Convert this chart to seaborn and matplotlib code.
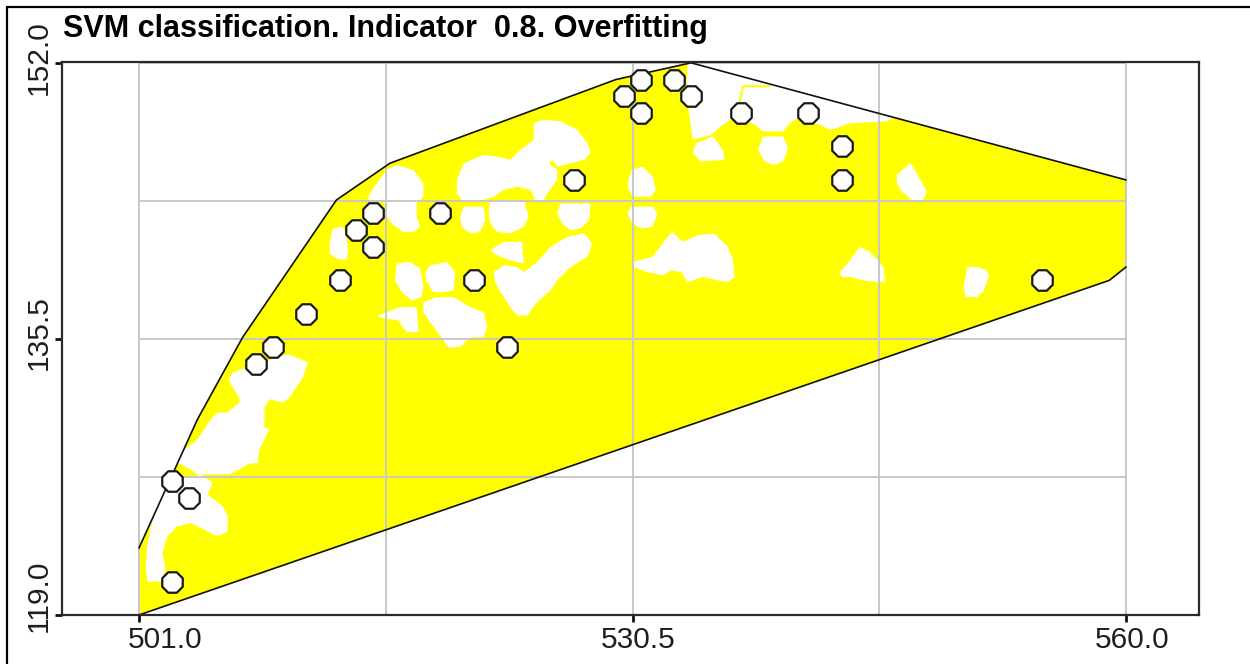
import matplotlib
matplotlib.use("Agg")
import matplotlib.pyplot as plt
from matplotlib.lines import Line2D
from matplotlib.transforms import blended_transform_factory, offset_copy
import seaborn as sns

TITLE = "SVM classification. Indicator  0.8. Overfitting"

# axis ticks and grid
x_ticks = [501.0, 530.5, 560.0]
x_tick_labels = ["501.0", "530.5", "560.0"]
y_ticks = [119.0, 135.5, 152.0]
y_tick_labels = ["119.0", "135.5", "152.0"]
x_grid = [501.0, 515.75, 530.5, 545.25, 560.0]
y_grid = [119.0, 127.25, 135.5, 143.75, 152.0]

# training samples
point_x = [503, 504, 503, 508, 509, 511, 513, 514, 515, 515, 519, 521,
           523, 527, 530, 531, 531, 533, 534, 537, 541, 543, 543, 555]
point_y = [127, 126, 121, 134, 135, 137, 139, 142, 143, 141, 143, 139,
           135, 145, 150, 151, 149, 151, 150, 149, 149, 147, 145, 139]

# convex hull of the data (lower and upper chains)
hull_lower_x = [501.0, 559.0, 560.0]
hull_lower_y = [119.0, 139.0, 139.8]
hull_upper_x = [560.0, 534.0, 529.5, 516.0, 512.8, 507.2, 504.5, 501.0]
hull_upper_y = [145.0, 152.0, 151.0, 146.0, 143.8, 135.6, 130.7, 123.0]

# areas inside the hull not covered by the yellow class
hole_01 = [(501.5, 123.1), (501.8, 124.7), (503.0, 127.5), (503.9, 127.2), (504.7, 127.4),
           (505.4, 126.9), (505.1, 126.2), (506.0, 125.5), (506.3, 124.9), (506.3, 124.0),
           (505.7, 123.7), (505.1, 124.0), (504.1, 124.5), (503.3, 124.3), (502.7, 123.7),
           (502.4, 122.7), (502.6, 121.7), (502.3, 121.0), (501.5, 121.0), (501.4, 121.9)]
hole_02 = [(506.4, 133.1), (506.6, 133.5), (507.5, 133.8), (509.9, 134.6), (511.1, 134.1),
           (510.8, 133.2), (510.0, 132.0), (509.6, 131.7), (508.8, 131.9), (508.5, 131.4),
           (508.5, 130.2), (508.8, 130.1), (508.2, 128.9), (508.1, 128.1), (507.5, 128.0),
           (507.0, 127.7), (506.4, 127.4), (504.5, 127.4), (503.9, 127.8), (503.3, 128.1),
           (503.6, 128.8), (504.5, 129.5), (505.3, 130.7), (505.7, 131.1), (506.3, 131.1),
           (507.0, 131.7), (507.0, 132.0), (506.4, 132.9)]
hole_03 = [(512.6, 142.1), (513.2, 142.2), (513.4, 141.6), (513.5, 140.8), (513.4, 140.2),
           (512.8, 140.3), (512.4, 140.6), (512.4, 141.2), (512.5, 141.8)]
hole_04 = [(514.8, 144.2), (515.8, 145.6), (516.4, 145.9), (517.4, 145.6), (518.0, 144.8),
           (518.0, 144.0), (517.6, 143.6), (517.6, 142.8), (517.8, 142.2), (517.4, 141.9),
           (516.8, 141.9), (516.2, 142.3), (515.8, 142.8), (515.7, 143.6), (515.2, 143.8),
           (514.7, 143.8)]
hole_05 = [(516.4, 140.0), (517.2, 140.1), (517.8, 139.7), (518.0, 138.7), (517.9, 138.0),
           (517.3, 137.8), (516.7, 138.3), (516.3, 139.0)]
hole_06 = [(515.3, 136.9), (516.6, 137.4), (517.6, 137.4), (517.7, 135.9), (517.0, 135.9),
           (516.5, 136.6), (515.4, 136.8)]
hole_07 = [(520.0, 145.0), (520.4, 146.0), (521.6, 146.5), (522.4, 146.4), (523.2, 146.2),
           (523.8, 146.8), (524.6, 147.4), (524.6, 148.4), (525.2, 148.6), (526.2, 148.5),
           (527.2, 148.0), (527.8, 147.2), (528.0, 146.6), (527.6, 146.2), (526.8, 146.0),
           (526.0, 145.8), (525.7, 146.2), (525.5, 146.0), (526.0, 145.6), (526.0, 145.0),
           (525.4, 144.2), (525.2, 143.8), (524.7, 143.8), (524.4, 144.4), (523.6, 144.6),
           (522.8, 144.4), (522.2, 144.0), (521.6, 143.8), (520.3, 143.8), (520.0, 144.2)]
hole_08 = [(520.4, 143.4), (521.6, 143.4), (521.7, 142.6), (521.4, 141.9), (520.8, 141.8),
           (520.3, 142.2), (520.2, 142.8)]
hole_09 = [(522.0, 143.8), (524.0, 143.8), (524.3, 142.8), (524.0, 142.2), (523.2, 141.8),
           (522.4, 141.9), (522.0, 142.4), (521.9, 143.2)]
hole_10 = [(526.2, 143.6), (528.0, 143.6), (527.9, 142.6), (527.4, 142.1), (526.8, 142.0),
           (526.3, 142.4), (526.0, 143.0)]
hole_11 = [(522.0, 140.8), (522.8, 141.3), (523.9, 141.3), (524.0, 140.0), (523.2, 140.2),
           (522.4, 140.5)]
hole_12 = [(522.2, 139.5), (522.8, 139.9), (523.6, 139.8), (524.0, 139.5), (524.8, 140.1),
           (525.6, 141.0), (526.6, 141.6), (527.6, 141.8), (528.1, 141.2), (527.8, 140.4),
           (526.8, 139.8), (526.0, 139.0), (525.6, 138.4), (524.8, 137.7), (524.2, 136.9),
           (523.6, 136.9), (523.2, 137.4), (523.0, 137.7), (522.6, 138.3), (522.3, 138.9)]
hole_13 = [(518.4, 139.9), (519.4, 140.1), (519.9, 139.5), (519.8, 138.4), (519.2, 138.3),
           (518.6, 138.3), (518.2, 138.9), (518.1, 139.5)]
hole_14 = [(518.0, 137.7), (518.8, 138.0), (519.8, 138.0), (520.8, 137.4), (521.6, 137.1),
           (521.8, 136.2), (521.6, 135.6), (520.8, 135.6), (520.2, 135.0), (519.5, 135.0),
           (519.0, 135.7), (518.4, 136.5), (518.0, 137.1)]
hole_15 = [(530.5, 145.6), (531.1, 145.8), (531.7, 145.2), (531.9, 144.4), (531.6, 144.0),
           (530.5, 144.0), (530.2, 144.6), (530.3, 145.2)]
hole_16 = [(530.4, 143.4), (531.7, 143.4), (532.0, 143.0), (531.7, 142.2), (531.0, 142.1),
           (530.5, 142.4), (530.2, 143.0)]
hole_17 = [(530.5, 140.1), (531.7, 140.4), (532.6, 141.6), (532.9, 141.9), (533.5, 141.3),
           (534.4, 141.7), (535.4, 141.8), (536.2, 141.0), (536.5, 140.2), (536.6, 139.2),
           (536.2, 138.9), (535.6, 139.0), (534.7, 139.2), (533.8, 138.9), (533.4, 139.5),
           (532.8, 139.6), (532.3, 139.3), (531.4, 139.5), (530.5, 139.8)]
hole_18 = [(533.7, 150.4), (533.8, 152.0), (538.1, 151.2), (546.5, 149.1), (545.9, 148.6),
           (545.7, 148.5), (543.5, 148.4), (542.7, 148.1), (542.3, 148.0), (541.7, 148.3),
           (541.0, 148.5), (540.4, 148.7), (539.9, 148.4), (539.5, 147.9), (538.3, 147.9),
           (537.7, 148.4), (537.1, 148.5), (536.5, 148.7), (535.9, 148.3), (535.2, 147.7),
           (534.1, 147.4)]
hole_19 = [(534.3, 147.2), (535.3, 147.6), (535.9, 146.8), (536.0, 146.2), (534.6, 146.1),
           (534.1, 146.6)]
hole_20 = [(538.3, 147.6), (539.5, 147.6), (539.8, 146.9), (539.5, 146.1), (538.9, 145.9),
           (538.4, 146.1), (538.0, 146.8)]
hole_21 = [(546.3, 145.3), (547.1, 146.0), (547.5, 145.4), (548.1, 144.3), (547.8, 143.7),
           (547.2, 143.8), (546.6, 144.3), (546.3, 144.8)]
hole_22 = [(542.9, 139.5), (543.5, 140.2), (544.1, 141.0), (544.7, 140.7), (545.5, 139.8),
           (545.6, 138.9), (545.1, 138.9), (544.3, 139.0), (543.5, 139.2), (543.0, 139.2)]
hole_23 = [(550.5, 139.8), (551.1, 139.8), (551.7, 139.6), (551.8, 139.2), (551.5, 138.4),
           (551.1, 138.0), (550.4, 138.0), (550.3, 138.6)]

# thin strand of the yellow class inside the top white area
strand_x = [536.9, 537.1, 538.7]
strand_y = [149.6, 150.6, 150.6]

holes = [hole_01, hole_02, hole_03, hole_04, hole_05, hole_06, hole_07, hole_08,
         hole_09, hole_10, hole_11, hole_12, hole_13, hole_14, hole_15, hole_16,
         hole_17, hole_18, hole_19, hole_20, hole_21, hole_22, hole_23]

sns.set_theme(style="white")
plt.rcParams["font.family"] = ["Liberation Sans", "DejaVu Sans"]

W, H = 1250, 664
fig = plt.figure(figsize=(W / 100, H / 100), dpi=100, facecolor="white")
ax = fig.add_axes([62 / W, 1 - 615 / H, (1199 - 62) / W, (615 - 62) / H])
ax.set_facecolor("white")

YELLOW = "#ffff00"
GRID = "#c8c8c8"

# class region: hull filled yellow, holes cut out in white
region_x = hull_lower_x + hull_upper_x
region_y = hull_lower_y + hull_upper_y
ax.fill(region_x, region_y, color=YELLOW, lw=0, zorder=1)
for hole in holes:
    hx, hy = zip(*hole)
    ax.fill(hx, hy, color="white", lw=0, zorder=1.2)
ax.plot(strand_x, strand_y, color=YELLOW, lw=1.5, zorder=1.3)

# grid limited to the data range
ax.vlines(x_grid, y_grid[0], y_grid[-1], colors=GRID, lw=1.4, zorder=1.5)
ax.hlines(y_grid, x_grid[0], x_grid[-1], colors=GRID, lw=1.4, zorder=1.5)

# hull outline
sns.lineplot(x=hull_lower_x, y=hull_lower_y, sort=False, estimator=None,
             color="#111111", lw=1.2, ax=ax, zorder=2)
sns.lineplot(x=hull_upper_x, y=hull_upper_y, sort=False, estimator=None,
             color="#111111", lw=1.2, ax=ax, zorder=2)

# samples
sns.scatterplot(x=point_x, y=point_y, marker="8", s=255, color="white",
                edgecolor="#1a1a1a", linewidth=1.6, ax=ax, zorder=4, legend=False)

ax.set_xlim(496.4, 564.36)
ax.set_ylim(119.0, 152.05)
ax.set_xlabel("")
ax.set_ylabel("")
ax.set_xticks(x_ticks)
ax.set_yticks(y_ticks)
ax.tick_params(axis="both", direction="out", length=5, width=2, color="#111111",
               labelbottom=False, labelleft=False, bottom=True, left=True)
for sp in ax.spines.values():
    sp.set_visible(True)
    sp.set_color("#2a2a2a")
    sp.set_linewidth(1.6)

# tick labels
tx = blended_transform_factory(ax.transData, ax.transAxes)
for i, (v, lab) in enumerate(zip(x_ticks, x_tick_labels)):
    dx = 26 if i == 0 else 6
    ax.text(v, 0, lab, transform=offset_copy(tx, fig=fig, x=dx, y=-33, units="dots"),
            ha="center", va="baseline", fontsize=21.5, color="#1e1e1e")

ty = blended_transform_factory(ax.transAxes, ax.transData)
y_shift = [19, 6, 5]
for v, lab, dy in zip(y_ticks, y_tick_labels, y_shift):
    ax.text(0, v, lab, transform=offset_copy(ty, fig=fig, x=-15, y=dy, units="dots"),
            rotation=90, rotation_mode="anchor", ha="center", va="baseline",
            fontsize=21.5, color="#1e1e1e")

# title
fig.text(63 / W, 1 - 37 / H, TITLE, ha="left", va="baseline",
         fontsize=22, fontweight="bold", color="black")

# panel border (left and top edges)
fig.add_artist(Line2D([7 / W, 7 / W], [0, 1 - 7 / H], transform=fig.transFigure,
                      color="black", lw=1.6))
fig.add_artist(Line2D([7 / W, 1], [1 - 7 / H, 1 - 7 / H], transform=fig.transFigure,
                      color="black", lw=1.6))

fig.savefig("out.png", dpi=100, facecolor="white")
